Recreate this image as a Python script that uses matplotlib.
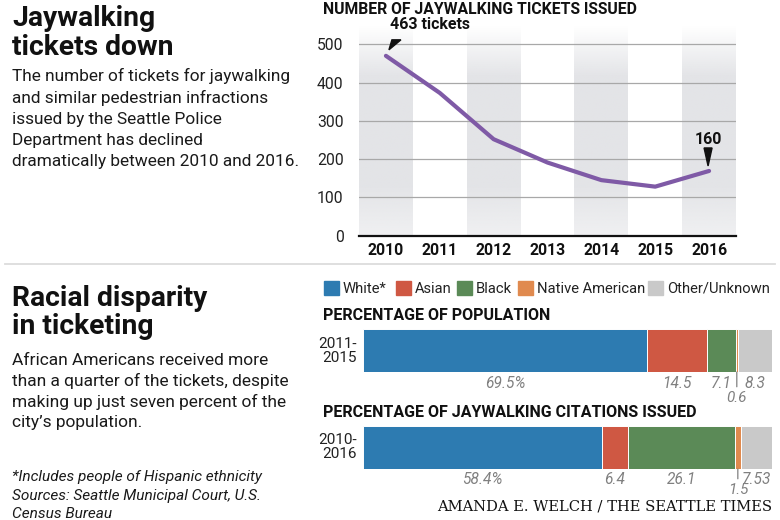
import matplotlib
matplotlib.use("Agg")
import matplotlib.pyplot as plt
import matplotlib.transforms as mtransforms
import numpy as np
from matplotlib.patches import Polygon, Rectangle
from matplotlib.colors import to_rgb

plt.rcParams['font.family'] = ['Roboto', 'DejaVu Sans']

# --- data ---
years = [2010, 2011, 2012, 2013, 2014, 2015, 2016]
tickets = [470, 373, 252, 191, 145, 128, 169]
first_label = "463 tickets"
last_label = "160"

groups = ["White*", "Asian", "Black", "Native American", "Other/Unknown"]
colors = ["#2d7bb1", "#cf5843", "#5b8a57", "#e08a4f", "#c9c9c9"]
population = [69.5, 14.5, 7.1, 0.6, 8.3]
citations = [58.4, 6.4, 26.1, 1.5, 7.53]
pop_period = "2011-\n2015"
cit_period = "2010-\n2016"

W, H = 780, 520


def fx(x):
    return x / W


def fy(y):
    return 1 - y / H


fig = plt.figure(figsize=(7.8, 5.2), dpi=100)

# ---------------- left text blocks ----------------
for i, line in enumerate(["Jaywalking", "tickets down"]):
    fig.text(fx(12), fy(26.5 + 28.5 * i), line, fontsize=20.3, fontweight="bold",
             va="baseline", color="#111111")
body1 = ["The number of tickets for jaywalking",
         "and similar pedestrian infractions",
         "issued by the Seattle Police",
         "Department has declined",
         "dramatically between 2010 and 2016."]
for i, line in enumerate(body1):
    fig.text(fx(12), fy(81.5 + 21.1 * i), line, fontsize=12.4, va="baseline", color="#1a1a1a")

for i, line in enumerate(["Racial disparity", "in ticketing"]):
    fig.text(fx(12), fy(305.5 + 28.7 * i), line, fontsize=20.3, fontweight="bold",
             va="baseline", color="#111111")
body2 = ["African Americans received more",
         "than a quarter of the tickets, despite",
         "making up just seven percent of the",
         "city\u2019s population."]
for i, line in enumerate(body2):
    fig.text(fx(12), fy(365 + 20.8 * i), line, fontsize=12.5, va="baseline", color="#1a1a1a")
notes = ["*Includes people of Hispanic ethnicity",
         "Sources: Seattle Municipal Court, U.S.",
         "Census Bureau"]
for i, line in enumerate(notes):
    fig.text(fx(12), fy(481.5 + 18.5 * i), line, fontsize=11.1, style="italic",
             va="baseline", color="#1a1a1a")

# separator
fig.add_artist(plt.Line2D([fx(5), fx(775)], [fy(264), fy(264)], color="#dcdcdc", lw=1.3))

# ---------------- line chart ----------------
ax = fig.add_axes([fx(359), fy(235.6), fx(736) - fx(359), (550 * 0.3825) / H])
ax.set_xlim(2009.5, 2016.5)
ax.set_ylim(0, 550)

shade = np.array(to_rgb("#e3e4e7"))
ramp = np.concatenate([np.linspace(0.0, 1.0, 25), np.ones(50), np.linspace(1.0, 0.55, 25)])
grad = np.ones((len(ramp), 1, 4))
grad[:, 0, :3] = shade
grad[:, 0, 3] = ramp
for yr in years[::2]:
    ax.imshow(grad, extent=(yr - 0.5, yr + 0.5, 0, 550), origin="upper",
              aspect="auto", zorder=0, interpolation="bilinear")

for v in range(100, 501, 100):
    ax.axhline(v, color="#a8a8a8", lw=0.9, zorder=1)
ax.axhline(0, color="#111111", lw=1.6, zorder=3, clip_on=False)

ax.plot(years, tickets, color="#7f5aa6", lw=3.0, solid_joinstyle="round",
        solid_capstyle="round", zorder=4)

ax.set_xticks(years)
ax.set_xticklabels([str(y) for y in years], fontweight="bold", fontsize=11.3, color="#111111")
ax.set_yticks(range(0, 501, 100))
ax.set_yticklabels([str(v) for v in range(0, 501, 100)], fontsize=11.3, color="#222222")
ax.tick_params(length=0)
ax.tick_params(axis="x", pad=5)
ax.tick_params(axis="y", pad=11)
for s in ax.spines.values():
    s.set_visible(False)

# pointers (vertices in inches relative to the data point)
def pointer(x, y, verts_px):
    trans = fig.dpi_scale_trans + mtransforms.ScaledTranslation(x, y, ax.transData)
    verts = [(a / 100, b / 100) for a, b in verts_px]
    ax.add_patch(Polygon(verts, closed=True, transform=trans, color="#111111",
                         zorder=5, clip_on=False))

pointer(years[0], tickets[0], [(3, 6), (6, 16), (15, 16)])
ax.annotate(first_label, xy=(years[0], tickets[0]), xytext=(4, 27), textcoords="offset pixels",
            fontsize=11.5, fontweight="bold", ha="left", va="baseline", color="#111111",
            annotation_clip=False)
pointer(years[-1], tickets[-1], [(-1, 5), (-5, 23), (3, 23)])
ax.annotate(last_label, xy=(years[-1], tickets[-1]), xytext=(-1, 27), textcoords="offset pixels",
            fontsize=11.5, fontweight="bold", ha="center", va="baseline", color="#111111",
            annotation_clip=False)

fig.text(fx(323), fy(14), "NUMBER OF JAYWALKING TICKETS ISSUED", fontsize=11.3,
         fontweight="bold", va="baseline", color="#111111")

# ---------------- legend ----------------
legend_x = [343, 415, 476, 537, 667]
for lx, name, c in zip(legend_x, groups, colors):
    fig.add_artist(Rectangle((fx(lx - 19), fy(295)), 15 / W, 14 / H, color=c,
                             transform=fig.transFigure))
    fig.text(fx(lx), fy(292.7), name, fontsize=10.6, va="baseline", color="#222222")

# ---------------- stacked bars ----------------
def stacked(top_px, values, period, title, title_base, off, off_small):
    bax = fig.add_axes([fx(363), fy(top_px + 43), fx(772) - fx(363), 43 / H])
    bax.set_xlim(0, 100)
    bax.set_ylim(-0.5, 0.5)
    bax.axis("off")
    left = 0
    for i, (v, c) in enumerate(zip(values, colors)):
        bax.barh(0, v, left=left, height=1, color=c, edgecolor="white", lw=0.7)
        label = f"{v}%" if i == 0 else str(v)
        cx = left + v / 2
        if v < 3:
            bax.annotate(label, xy=(cx, -0.5), xytext=(0, off_small), textcoords="offset pixels",
                         ha="center", va="center", fontsize=11, style="italic", color="#808080",
                         annotation_clip=False,
                         arrowprops=dict(arrowstyle="-", color="#707070", lw=0.8,
                                         shrinkA=1, shrinkB=0))
        else:
            bax.annotate(label, xy=(cx, -0.5), xytext=(0, off), textcoords="offset pixels",
                         ha="center", va="center", fontsize=11.2, style="italic", color="#808080",
                         annotation_clip=False)
        left += v
    fig.text(fx(357), fy(top_px + 21.5), period, fontsize=11, ha="right", va="center",
             color="#222222", linespacing=1.0)
    fig.text(fx(323), fy(title_base), title, fontsize=11.5, fontweight="bold",
             va="baseline", color="#111111")

stacked(329, population, pop_period, "PERCENTAGE OF POPULATION", 320, -12, -26)
stacked(426, citations, cit_period, "PERCENTAGE OF JAYWALKING CITATIONS ISSUED", 416.7, -10, -21)

fig.text(fx(772), fy(510), "AMANDA E. WELCH / THE SEATTLE TIMES", family="DejaVu Serif",
         fontsize=10.6, ha="right", va="baseline", color="#111111")

fig.savefig("out.png", dpi=100)
